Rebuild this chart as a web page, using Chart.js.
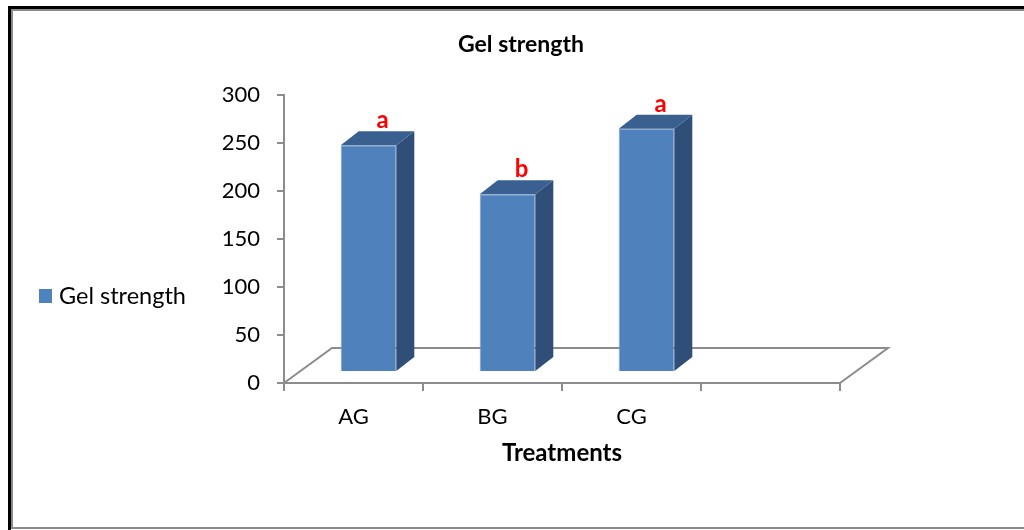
<!DOCTYPE html>
<html>
<head>
<meta charset="utf-8">
<title>Gel strength</title>
<script src="https://cdn.jsdelivr.net/npm/chart.js@4.4.1/dist/chart.umd.min.js"></script>
<style>
  html, body { margin: 0; padding: 0; background: #ffffff; }
  canvas { display: block; }
</style>
</head>
<body>
<canvas id="chart" width="1024" height="530"></canvas>
<script>
// Treatments and measured gel strength
const categories = ['AG', 'BG', 'CG', ''];
const gelStrength = [236, 185, 253, null];
// Significance letters shown above each bar
const groupLetters = ['a', 'b', 'a', ''];
// Value axis
const yMin = 0;
const yMax = 300;
const yStep = 50;

const FRONT = '#4F81BD';
const TOP = '#3A6091';
const SIDE = '#2F4F79';
const AXIS_GREY = '#8C8C8C';

// Depth of the floor and of the bars, in pixels
const FLOOR_DX = 48, FLOOR_DY = -35;
const FACE_DX = 15, FACE_DY = -11;   // front face of the bars sits inside the floor
const BAR_DX = 18, BAR_DY = -14;     // bar thickness

const framePlugin = {
  id: 'frame',
  beforeDraw(chart) {
    const ctx = chart.ctx;
    const W = chart.width, H = chart.height;
    ctx.save();
    ctx.fillStyle = '#ffffff';
    ctx.fillRect(0, 0, W, H);
    ctx.fillStyle = '#000000';
    ctx.fillRect(8, 6, 3, H - 6);
    ctx.fillRect(8, 6, W - 8, 3);
    ctx.fillStyle = '#8A8A8A';
    ctx.fillRect(11, 9, 2, H - 11);
    ctx.fillRect(11, 9, W - 11, 2);
    ctx.fillRect(11, 527, W - 11, 2);
    ctx.restore();
  }
};

const floorAndBarsPlugin = {
  id: 'floor3d',
  beforeDatasetsDraw(chart) {
    const ctx = chart.ctx;
    const a = chart.chartArea;
    const y0 = chart.scales.y.getPixelForValue(0);
    ctx.save();
    ctx.strokeStyle = AXIS_GREY;
    ctx.lineWidth = 2;
    ctx.beginPath();
    ctx.moveTo(a.left, y0);
    ctx.lineTo(a.left + FLOOR_DX, y0 + FLOOR_DY);
    ctx.lineTo(a.right + FLOOR_DX, y0 + FLOOR_DY);
    ctx.lineTo(a.right, y0);
    ctx.stroke();
    ctx.restore();
    // front faces are drawn by Chart.js, pushed back into the floor
    ctx.save();
    ctx.translate(FACE_DX, FACE_DY);
  },
  afterDatasetsDraw(chart) {
    const ctx = chart.ctx;
    ctx.restore();
    const meta = chart.getDatasetMeta(0);
    ctx.save();
    meta.data.forEach((bar, i) => {
      if (gelStrength[i] === null || gelStrength[i] === undefined) return;
      const p = bar.getProps(['x', 'y', 'base', 'width'], true);
      const left = p.x - p.width / 2 + FACE_DX;
      const right = p.x + p.width / 2 + FACE_DX;
      const top = p.y + FACE_DY;
      const bottom = p.base + FACE_DY;
      // side face
      ctx.fillStyle = SIDE;
      ctx.beginPath();
      ctx.moveTo(right, top);
      ctx.lineTo(right + BAR_DX, top + BAR_DY);
      ctx.lineTo(right + BAR_DX, bottom + BAR_DY);
      ctx.lineTo(right, bottom);
      ctx.closePath();
      ctx.fill();
      // top face
      ctx.fillStyle = TOP;
      ctx.beginPath();
      ctx.moveTo(left, top);
      ctx.lineTo(right, top);
      ctx.lineTo(right + BAR_DX, top + BAR_DY);
      ctx.lineTo(left + BAR_DX, top + BAR_DY);
      ctx.closePath();
      ctx.fill();
      // significance letter
      ctx.fillStyle = '#FF0000';
      ctx.font = 'bold 24px Lato';
      ctx.textAlign = 'center';
      ctx.textBaseline = 'alphabetic';
      ctx.fillText(groupLetters[i], (left + right) / 2 + BAR_DX - 4, top + BAR_DY - 3);
    });
    ctx.restore();
  }
};

const sideLegendPlugin = {
  id: 'sideLegend',
  afterDraw(chart) {
    const ctx = chart.ctx;
    const ds = chart.data.datasets[0];
    ctx.save();
    ctx.fillStyle = ds.backgroundColor;
    ctx.fillRect(39, 289, 13, 14);
    ctx.fillStyle = '#000000';
    ctx.font = '23.5px Lato';
    ctx.textAlign = 'left';
    ctx.textBaseline = 'middle';
    ctx.fillText(ds.label, 59, 296);
    ctx.restore();
  }
};

function build() {
  Chart.defaults.font.family = 'Lato';
  Chart.defaults.color = '#000000';
  new Chart(document.getElementById('chart'), {
    type: 'bar',
    data: {
      labels: categories,
      datasets: [{
        label: 'Gel strength',
        data: gelStrength,
        backgroundColor: FRONT,
        borderColor: '#7FA2CC',
        borderWidth: 1,
        barPercentage: 0.4,
        categoryPercentage: 1.0,
        clip: false
      }]
    },
    options: {
      responsive: false,
      animation: false,
      devicePixelRatio: 1,
      layout: { padding: { left: 32, right: 14, top: 6, bottom: 47 } },
      plugins: {
        legend: { display: false },
        tooltip: { enabled: false },
        title: {
          display: true,
          text: 'Gel strength',
          color: '#000000',
          font: { family: 'Lato', size: 23, weight: 'bold' },
          padding: { top: 25, bottom: 36 }
        }
      },
      scales: {
        x: {
          type: 'category',
          offset: true,
          grid: {
            display: true,
            offset: true,
            drawOnChartArea: false,
            drawTicks: true,
            tickLength: 8,
            color: AXIS_GREY,
            lineWidth: 2
          },
          border: { display: true, color: AXIS_GREY, width: 2 },
          ticks: { font: { size: 22 }, color: '#000000', padding: 13, maxRotation: 0 },
          title: {
            display: true,
            text: 'Treatments',
            color: '#000000',
            font: { family: 'Lato', size: 24, weight: 'bold' },
            padding: { top: 0, bottom: 15 }
          },
          afterFit(s) { s.height = 100; }
        },
        y: {
          type: 'linear',
          position: 'left',
          min: yMin,
          max: yMax,
          ticks: { stepSize: yStep, font: { size: 22 }, color: '#000000', padding: 17 },
          grid: {
            display: true,
            drawOnChartArea: false,
            drawTicks: true,
            tickLength: 7,
            color: AXIS_GREY,
            lineWidth: 2
          },
          border: { display: true, color: AXIS_GREY, width: 2 },
          afterFit(s) { s.width = 252; }
        },
        yRight: {
          type: 'linear',
          position: 'right',
          display: true,
          grid: { display: false },
          border: { display: false },
          ticks: { display: false },
          afterFit(s) { s.width = 170; }
        }
      }
    },
    plugins: [framePlugin, floorAndBarsPlugin, sideLegendPlugin]
  });
}

Promise.all([
  document.fonts.load('22px Lato'),
  document.fonts.load('bold 22px Lato')
]).then(build, build);
</script>
</body>
</html>
